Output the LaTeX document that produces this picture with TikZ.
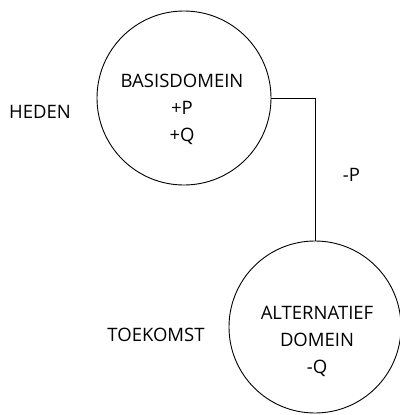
\documentclass[tikz,border=0pt]{standalone}
\usepackage{fontspec}
\setmainfont{Open Sans}
\begin{document}
\begin{tikzpicture}[x=1pt,y=1pt,
  domain/.style={draw, circle, line width=0.9pt, minimum size=#1, inner sep=0pt},
  caption/.style={font=\fontsize{18.5}{27}\selectfont, text=black, align=center, inner sep=0pt},
  link/.style={draw, line width=0.9pt}]
  \useasboundingbox (0,0) rectangle (399,-415);
  % the two domains
  \node[domain=174pt] (basis) at (184,-98) {};
  \node[domain=172pt] (alt) at (315,-327) {};
  % texts inside the domains
  \node[caption] (basistxt) at (182,-109) {BASISDOMEIN\\+P\\+Q};
  \node[caption] (alttxt) at (317,-341) {ALTERNATIEF\\DOMEIN\\-Q};
  % time labels
  \node[caption] (heden) at (40,-111.5) {HEDEN};
  \node[caption] (toekomst) at (156,-335) {TOEKOMST};
  % connector from present to future
  \coordinate (bend) at (alt.north |- basis.east);
  \draw[link] (basis.east) -- (bend) -- (alt.north);
  \node[caption] (minp) at (351.5,-175) {-P};
\end{tikzpicture}
\end{document}
